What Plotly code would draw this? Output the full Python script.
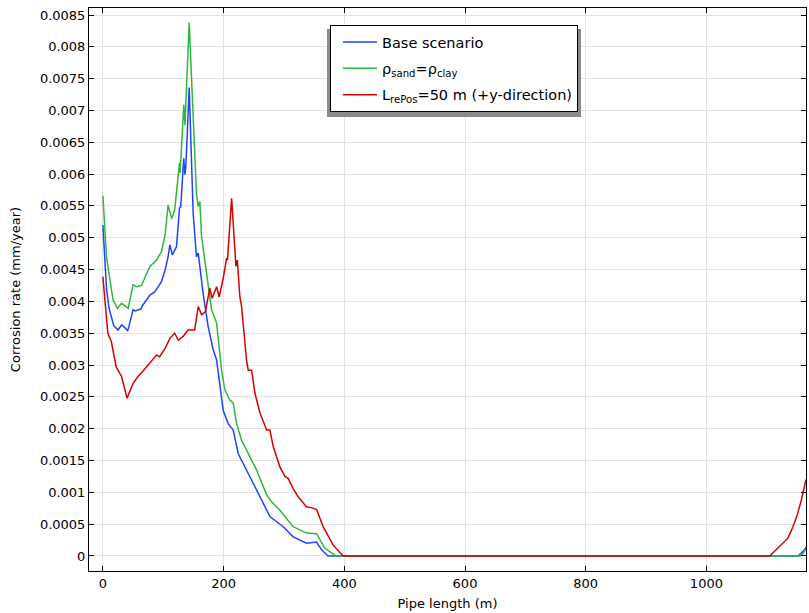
import plotly.graph_objects as go

# ---------------- data ----------------
base_x = [0, 3, 6, 10, 14, 18, 25, 31, 35, 41, 43, 50, 53, 58, 63, 66, 78, 86, 97, 103, 108, 111,
          115, 122, 127, 129, 132, 134, 136, 137.5, 143, 149.6, 155, 158, 166, 174.5, 182.8, 188.4,
          192.7, 194, 199.3, 207.6, 215.9, 224.2, 238, 243.6, 260, 276.7, 298.8, 315.3, 337.5, 354,
          362, 373, 1152, 1158, 1163, 1165]
base_y = [0.0052, 0.0047, 0.0042, 0.0039, 0.00375, 0.00362, 0.00355, 0.00363, 0.0036, 0.00354, 0.0036,
          0.00387, 0.00385, 0.00387, 0.00388, 0.00394, 0.0041, 0.00415, 0.00431, 0.00449, 0.0047, 0.00489,
          0.00473, 0.00486, 0.00547, 0.00549, 0.00596, 0.00625, 0.00599, 0.00612, 0.00736, 0.00538, 0.0047,
          0.00476, 0.00413, 0.0036, 0.00324, 0.00308, 0.00277, 0.00266, 0.00229, 0.00208, 0.00198, 0.00161,
          0.00135, 0.00125, 0.00093, 0.00062, 0.00046, 0.0003, 0.0002, 0.00022, 0.0001, 0.0, 0.0, 0.00005,
          0.0001, 0.00014]

sand_x = [0, 6, 11.6, 17, 24, 31, 42, 50, 56, 64, 69, 78, 89, 97, 103, 108, 114, 119, 127, 128, 134,
          136, 143, 149.6, 155, 158, 160.7, 163.5, 171.8, 180, 188.4, 193.9, 196.7, 202, 210.4, 216,
          221.5, 229.8, 240.8, 243.6, 254.7, 271.3, 279.5, 293.3, 315.3, 337.5, 354, 367.9, 381.6, 386,
          1155, 1160, 1165]
sand_y = [0.00566, 0.0047, 0.00434, 0.00402, 0.00389, 0.00397, 0.00389, 0.00426, 0.00423, 0.00425,
          0.00436, 0.00455, 0.00465, 0.00478, 0.00504, 0.00551, 0.0053, 0.00544, 0.00618, 0.00602, 0.00709,
          0.00677, 0.00838, 0.00675, 0.0057, 0.00549, 0.00557, 0.00502, 0.00444, 0.00387, 0.00366, 0.00313,
          0.00292, 0.00261, 0.00245, 0.0024, 0.00208, 0.00182, 0.00161, 0.00156, 0.00135, 0.00096, 0.00085,
          0.00072, 0.00046, 0.00036, 0.00035, 0.00012, 0.00002, 0.0, 0.0, 0.00004, 0.0001]

repos_x = [0, 8.2, 14, 22, 31, 40, 50, 58, 66, 78, 89, 94, 103, 111, 119, 125, 133, 141, 152, 158,
           163.5, 170, 177, 181, 188.4, 192.7, 199.3, 205, 206.5, 213.3, 218.8, 220.5, 222.7, 227, 229.8,
           235.3, 238, 240.8, 246.4, 251.9, 260.2, 271.3, 276.7, 282.2, 293.3, 301.6, 307, 315.3, 323.6,
           337.5, 345.8, 354.1, 365, 381.6, 398, 1105, 1120, 1135, 1143, 1150, 1157, 1163, 1165]
repos_y = [0.00439, 0.0035, 0.00337, 0.00297, 0.00282, 0.00248, 0.00271, 0.00282, 0.0029, 0.00303,
           0.00316, 0.00313, 0.00326, 0.00342, 0.0035, 0.00339, 0.00345, 0.00355, 0.00355, 0.00392, 0.00379,
           0.00384, 0.00421, 0.00405, 0.00423, 0.00407, 0.00436, 0.00468, 0.00465, 0.00562, 0.00486, 0.00455,
           0.00465, 0.00407, 0.00392, 0.00334, 0.00308, 0.00292, 0.00292, 0.00256, 0.00225, 0.00198, 0.00198,
           0.00172, 0.0014, 0.00125, 0.00122, 0.00106, 0.00093, 0.00077, 0.00076, 0.00073, 0.00046, 0.00017,
           0.0, 0.0, 0.00014, 0.00028, 0.00045, 0.00063, 0.00087, 0.00112, 0.0012]

series_names = ["Base scenario",
                "ρ<sub>sand</sub>=ρ<sub>clay</sub>",
                "L<sub>rePos</sub>=50 m (+y-direction)"]
series_colors = ["#1f45fc", "#2db83d", "#d60000"]

x_tickvals = [0, 200, 400, 600, 800, 1000]
x_ticktext = ["0", "200", "400", "600", "800", "1000"]
y_tickvals = [0, 0.0005, 0.001, 0.0015, 0.002, 0.0025, 0.003, 0.0035, 0.004, 0.0045,
              0.005, 0.0055, 0.006, 0.0065, 0.007, 0.0075, 0.008, 0.0085]
y_ticktext = ["0", "0.0005", "0.001", "0.0015", "0.002", "0.0025", "0.003", "0.0035", "0.004",
              "0.0045", "0.005", "0.0055", "0.006", "0.0065", "0.007", "0.0075", "0.008", "0.0085"]

# ---------------- figure ----------------
FONT = "DejaVu Sans"
W, H = 809, 613
# plot area in window pixels: x 89..806, y 8..571
L, R, T, B = 89, 809 - 806, 8, 613 - 571
PW, PH = W - L - R, H - T - B

def px(xp):
    return (xp - L) / PW

def py(yp):
    return (H - B - yp) / PH

fig = go.Figure()
for i, (xs, ys, name, col) in enumerate(zip([base_x, sand_x, repos_x], [base_y, sand_y, repos_y],
                                            series_names, series_colors)):
    fig.add_trace(go.Scatter(x=xs, y=ys, mode="lines", name=name, legendgroup=f"g{i}",
                             line=dict(color=col, width=1.5)))

axis_common = dict(showline=True, linecolor="black", linewidth=1, mirror="ticks",
                   ticks="inside", ticklen=5, tickcolor="black", showgrid=True,
                   gridcolor="#e3e3e3", gridwidth=1, zeroline=False, automargin=False,
                   ticklabeloverflow="allow",
                   tickfont=dict(family=FONT, size=13, color="black"))

fig.update_xaxes(range=[-23, 1165], tickvals=x_tickvals, ticktext=x_ticktext,
                 title=dict(text="Pipe length (m)", font=dict(family=FONT, size=13, color="black"),
                            standoff=9),
                 **axis_common)
fig.update_yaxes(range=[-0.000236, 0.00861], tickvals=y_tickvals, ticktext=y_ticktext,
                 title=dict(text="Corrosion rate (mm/year)", font=dict(family=FONT, size=13, color="black"),
                            standoff=16),
                 **axis_common)

# legend shadow
fig.add_shape(type="rect", xref="paper", yref="paper", layer="above",
              x0=px(327), x1=px(581), y0=py(117), y1=py(29),
              fillcolor="#8a8a8a", line=dict(width=0))

fig.update_layout(
    width=W, height=H,
    margin=dict(l=L, r=R, t=T, b=B),
    plot_bgcolor="white", paper_bgcolor="white",
    showlegend=True,
    legend=dict(x=px(330), y=py(25), xanchor="left", yanchor="top",
                bgcolor="white", bordercolor="black", borderwidth=1,
                font=dict(family=FONT, size=14.5, color="black"),
                tracegroupgap=4.5, itemwidth=34, indentation=7),
)

# remove the page's default body margin so the figure fills the window exactly
fig.write_html("out.html",
               config={"displayModeBar": False},
               post_script="document.body.style.margin='0';document.body.style.overflow='hidden';")
